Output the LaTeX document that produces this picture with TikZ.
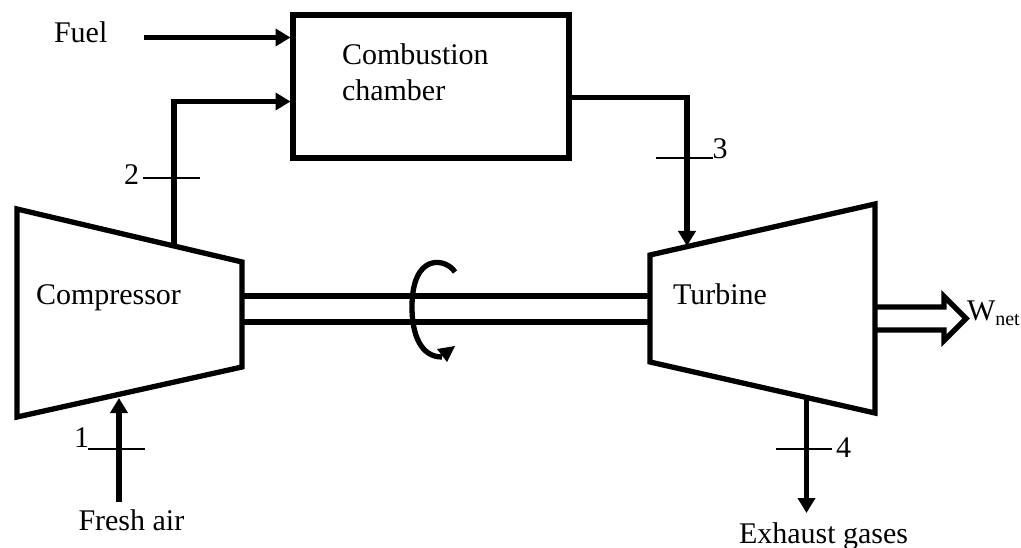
\documentclass[tikz,border=0pt]{standalone}
\usepackage{fontspec}
\setmainfont{Liberation Serif}
\usetikzlibrary{arrows.meta}
\tikzset{
  x=1pt,y=-1pt,
  thick line/.style={line width=5.3pt,line cap=butt,line join=miter},
  flow/.style={thick line,-{Triangle[length=15pt,width=17pt]}},
  tick line/.style={line width=1.8pt},
  lab/.style={anchor=base west,inner sep=0pt,outer sep=0pt,font=\fontsize{30}{34}\selectfont},
  box/.style={draw,thick line,minimum width=276pt,minimum height=143pt,inner sep=0pt,outer sep=0pt,anchor=north west},
}
\begin{document}
\begin{tikzpicture}
\useasboundingbox (0,0) rectangle (1021,548);
\node[box] (cc) at (293,15) {};
\coordinate (ccIn1) at (290.5,37.5);
\coordinate (ccIn2) at (290.5,101.5);
\coordinate (ccOut) at (569,97.5);
% compressor and turbine
\coordinate (c1) at (17,209); \coordinate (c2) at (242,262);
\coordinate (c3) at (242,367); \coordinate (c4) at (17,417);
\coordinate (t1) at (650,255); \coordinate (t2) at (875,204);
\coordinate (t3) at (875,413); \coordinate (t4) at (650,362);
\draw[thick line] (c1) -- (c2) -- (c3) -- (c4) -- cycle;
\draw[thick line] (t1) -- (t2) -- (t3) -- (t4) -- cycle;
% shaft
\coordinate (s1) at (242,296); \coordinate (s2) at (650,296);
\coordinate (s3) at (242,322); \coordinate (s4) at (650,322);
\draw[thick line] (s1) -- (s2);
\draw[thick line] (s3) -- (s4);
% flows
\coordinate (fuelS) at (144,37.5);
\draw[flow] (fuelS) -- (ccIn1);
\coordinate (cOut) at (174,244);
\coordinate (cBend) at (174,101.5);
\draw[flow] (cOut) -- (cBend) -- (ccIn2);
\coordinate (hBend) at (687,97.5);
\coordinate (tIn) at (687,246);
\draw[flow] (ccOut) -- (hBend) -- (tIn);
\coordinate (airS) at (119,502);
\coordinate (cIn) at (119,398);
\draw[flow] (airS) -- (cIn);
\coordinate (exS) at (806.5,398);
\coordinate (exE) at (806.5,513);
\draw[flow] (exS) -- (exE);
% ticks
\coordinate (a2) at (143,178); \coordinate (b2) at (200,178);
\coordinate (a3) at (656,158); \coordinate (b3) at (713,158);
\coordinate (a1) at (88,449); \coordinate (b1) at (145,449);
\coordinate (a4) at (775.5,449); \coordinate (b4) at (832,449);
\draw[tick line] (a2) -- (b2);
\draw[tick line] (a3) -- (b3);
\draw[tick line] (a1) -- (b1);
\draw[tick line] (a4) -- (b4);
% rotation arrow
\coordinate (r0) at (455,272);
\coordinate (r1) at (412,307);
\coordinate (r2) at (442,357);
\draw[line width=5.3pt] (r0) .. controls (446,258) and (412,252) .. (r1)
   .. controls (412,335) and (421,357) .. (r2);
\coordinate (h1) at (437,349); \coordinate (h2) at (455,346); \coordinate (h3) at (447,362);
\fill (h1) -- (h2) -- (h3) -- cycle;
% work arrow
\draw[line width=5.3pt,line join=miter,miter limit=10]
  (875,307) -- (944,307) -- (944,296.5) -- (966,318.5) -- (944,340.5) -- (944,330) -- (875,330);
% labels
\node[lab] (tFuel) at (54,43) {Fuel};
\node[lab] (tC1) at (342,65) {Combustion};
\node[lab] (tC2) at (342,101) {chamber};
\node[lab] (tComp) at (36,305) {Compressor};
\node[lab] (tTurb) at (673,305) {Turbine};
\node[lab] (tAir) at (78.5,530) {Fresh air};
\node[lab] (tEx) at (739,543) {Exhaust gases};
\node[lab] (n2) at (124,185) {2};
\node[lab] (n3) at (712.5,159) {3};
\node[lab] (n1) at (74,447) {1};
\node[lab] (n4) at (836,457) {4};
\node[lab] (tW) at (967,321) {W\raisebox{-5pt}{\fontsize{20}{22}\selectfont net}};
\end{tikzpicture}
\end{document}
